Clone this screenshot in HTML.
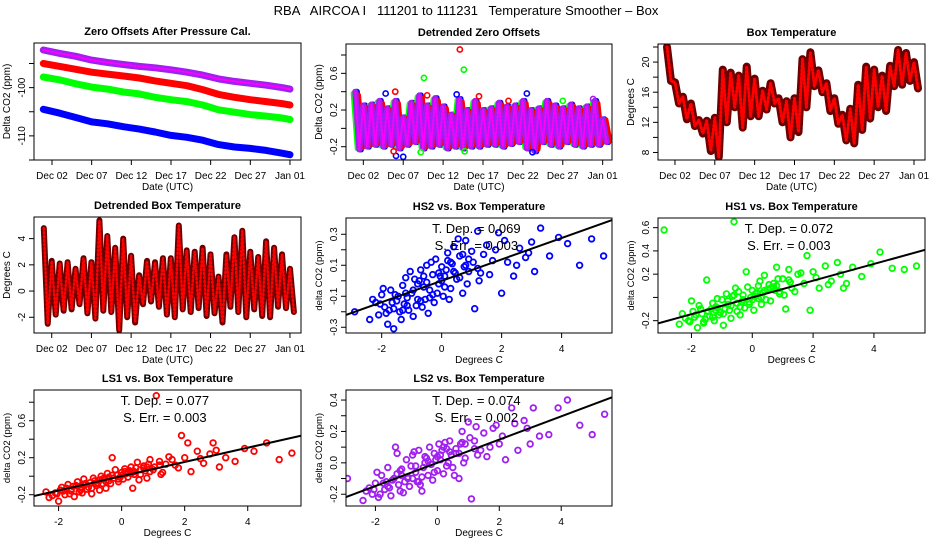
<!DOCTYPE html>
<html><head><meta charset="utf-8"><style>
html,body{margin:0;padding:0;background:#fff;}
svg{display:block;font-family:"Liberation Sans",Arial,sans-serif;}
</style></head><body>
<svg id="chart" width="936" height="540" viewBox="0 0 936 540" xmlns="http://www.w3.org/2000/svg">
<rect width="936" height="540" fill="#fff"/>
<text x="466" y="15" font-size="13" text-anchor="middle" xml:space="preserve">RBA   AIRCOA I   111201 to 111231   Temperature Smoother – Box</text>
</svg>
<script>
// ---------- data ----------
const dateTicks = [2,7,12,17,22,27,32];
const dateLabels = ["Dec 02","Dec 07","Dec 12","Dec 17","Dec 22","Dec 27","Jan 01"];

const zeroT = [0.9,3,5,7,9,11,13,15,17,19,21,23,25,27,29,31,32];
const zeroPurple = [-92.2,-92.9,-93.5,-94.3,-94.8,-95.2,-95.6,-95.9,-96.3,-96.8,-97.4,-98.2,-98.7,-99.1,-99.5,-100.0,-100.3];
const zeroRed = [-95.0,-95.6,-96.2,-96.8,-97.2,-97.6,-98.0,-98.6,-99.1,-99.6,-100.4,-101.4,-102.0,-102.5,-102.9,-103.3,-103.6];
const zeroGreen = [-97.8,-98.4,-99.2,-99.9,-100.3,-100.9,-101.3,-102.0,-102.5,-102.9,-103.6,-104.6,-105.1,-105.6,-105.9,-106.3,-106.6];
const zeroBlue = [-104.5,-105.3,-106.2,-107.1,-107.5,-108.1,-108.6,-109.2,-109.9,-110.3,-110.9,-111.8,-112.3,-112.6,-113.0,-113.6,-113.9];

const days = [1,2,3,4,5,6,7,8,9,10,11,12,13,14,15,16,17,18,19,20,21,22,23,24,25,26,27,28,29,30,31,32];
const detHi = [0.40,0.25,0.26,0.30,0.22,0.30,0.12,0.28,0.36,0.25,0.33,0.24,0.15,0.32,0.20,0.30,0.20,0.22,0.28,0.24,0.25,0.30,0.20,0.22,0.30,0.25,0.22,0.26,0.22,0.24,0.30,0.10];
const detLo = [-0.23,-0.20,-0.18,-0.20,-0.18,-0.22,-0.18,-0.15,-0.22,-0.20,-0.18,-0.22,-0.20,-0.22,-0.20,-0.20,-0.18,-0.18,-0.20,-0.17,-0.15,-0.22,-0.25,-0.15,-0.18,-0.20,-0.15,-0.18,-0.20,-0.18,-0.18,-0.15];
const outT = [14.1,9.6,14.6,6.0,4.8,6.1,7.0,10.0,22.5,20.2,27.0,5.8,9.2,23.2,14.7,16.5,13.7,30.8];
const outV = [0.86,0.55,0.64,0.40,0.38,-0.30,-0.31,0.36,0.38,0.30,0.30,-0.25,-0.26,-0.26,-0.25,0.35,0.37,0.32];
const outC = ["#ff0000","#00ff00","#00ff00","#ff0000","#0000ff","#0000ff","#0000ff","#ff0000","#0000ff","#ff0000","#00ff00","#ff0000","#00ff00","#0000ff","#00ff00","#ff0000","#0000ff","#a020f0"];

const tempHi = [22.0,17.3,15.4,14.5,12.3,12.2,12.6,19.0,18.6,18.2,19.4,17.8,16.2,17.2,15.2,14.8,15.2,20.4,21.3,18.9,17.2,15.2,13.0,13.8,17.0,19.4,19.0,18.2,19.5,21.6,21.2,20.0];
const tempLo = [17.5,14.5,12.4,11.5,10.5,8.2,7.4,12.0,14.0,11.3,12.8,12.8,13.7,14.5,12.0,10.0,10.7,14.0,16.8,16.0,13.5,11.8,9.6,9.2,11.0,12.5,14.0,13.5,16.8,17.0,17.5,16.5];

const dtHi = [4.8,2.3,2.1,2.2,1.7,2.5,2.2,5.4,4.2,3.3,4.0,2.7,1.2,2.3,2.2,2.5,2.5,5.0,3.1,3.0,3.3,2.8,1.1,2.8,4.1,4.6,3.0,2.6,3.8,3.3,2.8,1.7];
const dtLo = [-2.5,-1.8,-1.5,-1.4,-1.0,-1.7,-2.1,-1.5,-1.6,-3.0,-2.0,-2.4,-1.0,-0.8,-1.2,-1.8,-2.0,-1.4,-1.6,-1.3,-1.9,-1.7,-2.4,-1.2,-1.6,-2.0,-1.4,-1.9,-2.0,-1.2,-1.3,-1.6];

const boxT = [-2.9,-2.4,-2.3,-2.1,-2.0,-1.9,-1.8,-1.7,-1.6,-1.5,-1.4,-1.3,-1.25,-1.2,-1.1,-1.0,-0.95,-0.9,-0.8,-0.7,-0.65,-0.6,-0.5,-0.45,-0.4,-0.3,-0.25,-0.2,-0.1,0.0,0.05,0.1,0.2,0.3,0.35,0.4,0.5,0.6,0.7,0.8,0.9,1.0,1.1,1.2,1.3,1.5,1.7,1.9,2.0,2.2,2.4,2.6,2.8,3.1,3.3,3.6,3.9,4.2,4.6,5.0,5.4,
 -2.2,-1.95,-1.75,-1.55,-1.35,-1.15,-1.05,-0.85,-0.75,-0.55,-0.35,-0.15,0.15,0.25,0.45,0.55,0.75,0.85,1.05,1.25,1.4,1.6,1.8,2.1,2.5,2.9,3.0,-1.65,-0.05,
 -1.85,-1.45,-1.15,-0.95,-0.7,-0.5,-0.3,-0.1,0.1,0.3,0.6,0.9,-1.6,-1.2,-0.8,-0.4,0.0,0.4,0.8,1.2,-2.05,-1.3,-0.6,0.2,0.7];
const hs2Y = [-0.20,-0.25,-0.12,-0.22,-0.09,-0.17,-0.28,-0.06,-0.31,-0.13,-0.20,-0.03,-0.15,0.02,-0.19,-0.08,-0.23,0.01,-0.12,0.07,-0.17,-0.04,0.10,-0.21,-0.06,0.04,-0.14,0.14,-0.02,0.09,-0.10,0.03,0.18,-0.05,0.11,0.22,0.01,0.16,-0.08,0.26,0.06,0.19,-0.18,0.32,0.05,0.23,0.13,0.31,-0.08,0.12,0.03,0.21,0.15,0.06,0.34,0.16,0.28,0.24,0.10,0.27,0.16,
 -0.14,-0.05,-0.19,-0.09,-0.25,-0.11,0.06,-0.16,0.00,-0.12,0.12,-0.08,0.07,-0.12,0.05,0.27,0.09,-0.02,0.12,0.00,0.17,0.04,0.20,0.26,0.10,0.18,0.25,-0.14,0.03,
 -0.21,-0.10,-0.16,-0.06,-0.13,-0.01,-0.09,0.05,-0.04,0.12,0.02,0.14,-0.18,-0.08,-0.02,-0.11,0.00,0.06,0.10,0.08,-0.15,-0.19,0.03,0.13,0.17];
const hs1Y = [0.58,-0.23,-0.14,-0.20,-0.03,-0.17,-0.26,-0.10,-0.21,0.15,-0.16,-0.05,-0.20,-0.08,-0.15,-0.02,-0.24,-0.10,-0.06,-0.18,0.01,0.65,-0.12,0.05,-0.15,0.02,-0.09,0.22,-0.04,0.06,-0.11,0.01,0.10,-0.06,0.04,0.19,0.07,-0.03,0.12,0.26,0.03,0.16,-0.10,0.24,0.08,0.20,0.12,-0.11,0.22,0.08,0.27,0.14,0.30,0.12,0.26,0.18,0.29,0.39,0.25,0.24,0.27,
 -0.18,-0.12,-0.07,-0.19,-0.10,-0.01,-0.13,0.03,-0.11,0.08,-0.04,0.09,0.04,0.14,-0.02,0.11,0.06,0.16,0.02,0.13,0.05,0.21,0.36,0.17,0.11,0.20,0.08,-0.14,0.00,
 -0.15,-0.12,-0.09,-0.14,-0.07,-0.05,-0.02,-0.06,0.03,0.00,0.08,0.05,-0.22,-0.11,-0.03,-0.08,-0.02,0.06,0.10,0.15,-0.21,-0.17,0.02,-0.01,0.09];
const ls1Y = [-0.20,-0.17,-0.23,-0.18,-0.27,-0.12,-0.20,-0.09,-0.16,-0.22,-0.06,-0.12,-0.18,-0.03,-0.14,-0.07,-0.19,-0.02,-0.10,-0.15,0.00,-0.08,-0.13,0.03,-0.05,0.20,-0.02,0.07,-0.06,0.04,-0.03,0.08,-0.01,0.10,-0.13,0.05,0.15,0.02,0.11,-0.02,0.18,0.07,0.87,0.16,0.04,0.21,0.12,0.44,0.20,0.05,0.27,0.14,0.24,0.10,0.20,0.16,0.30,0.27,0.36,0.18,0.25,
 -0.21,-0.15,-0.13,-0.11,-0.17,-0.09,-0.12,-0.05,-0.07,-0.02,-0.08,0.01,0.03,0.06,0.09,-0.04,0.06,0.13,0.10,0.02,0.13,0.18,0.09,0.36,0.19,0.36,0.28,-0.19,-0.01,
 -0.16,-0.10,-0.08,-0.13,-0.04,-0.06,0.01,-0.03,0.05,0.03,0.07,0.05,-0.14,-0.09,-0.08,-0.01,0.01,0.02,0.10,0.12,-0.19,-0.15,-0.03,0.04,0.09];
const ls2Y = [-0.10,-0.24,-0.18,-0.20,-0.13,-0.22,-0.08,-0.17,-0.03,-0.21,-0.10,0.06,-0.14,-0.05,-0.19,0.02,-0.09,-0.15,0.05,-0.06,-0.12,0.08,-0.18,-0.03,0.04,-0.08,0.10,-0.01,0.06,-0.05,0.12,0.02,-0.07,0.09,0.00,0.14,-0.03,0.06,-0.10,0.20,0.03,0.26,-0.23,0.14,0.05,0.19,0.10,0.24,0.12,0.02,0.35,0.08,0.27,0.35,0.17,0.18,0.35,0.40,0.24,0.18,0.31,
 -0.16,-0.06,-0.13,-0.16,0.10,-0.08,-0.12,-0.02,0.07,-0.14,0.03,-0.11,0.08,0.13,0.05,-0.08,0.12,0.00,0.16,0.23,0.08,0.04,0.22,0.17,0.25,0.22,0.12,-0.12,0.02,
 -0.20,-0.11,-0.04,-0.10,-0.02,-0.09,0.01,-0.06,0.05,-0.02,0.09,0.12,-0.15,-0.18,-0.10,0.00,0.04,0.07,0.13,0.09,-0.17,-0.07,-0.12,0.10,0.06];
const slopes = {hs2:0.069, hs1:0.072, ls1:0.077, ls2:0.074};
const slopeLabels = ["T. Dep. =  0.069","T. Dep. =  0.072","T. Dep. =  0.077","T. Dep. =  0.074"];
const errLabels = ["S. Err. =  0.003","S. Err. =  0.003","S. Err. =  0.003","S. Err. =  0.002"];

// ---------- drawing ----------
const NS = "http://www.w3.org/2000/svg";
const svg = document.getElementById('chart');
function mk(tag, attrs, parent){
  const e = document.createElementNS(NS, tag);
  for (const k in attrs) e.setAttribute(k, attrs[k]);
  (parent||svg).appendChild(e);
  return e;
}
function panel(name, box, xd, yd){
  const g = mk('g', {});
  
  
  const cid = 'clip-' + name;
  const cp = mk('clipPath', {id: cid}, g);
  mk('rect', {x: box[0], y: box[1], width: box[2]-box[0], height: box[3]-box[1]}, cp);
  const plot = mk('g', {'clip-path': 'url(#' + cid + ')'}, g);
  
  
  const sx = v => box[0] + (v - xd[0]) / (xd[1] - xd[0]) * (box[2] - box[0]);
  const sy = v => box[3] - (v - yd[0]) / (yd[1] - yd[0]) * (box[3] - box[1]);
  return {g, plot, box, sx, sy};
}
function frame(P, title, xTicks, xLabels, yTicks, yLabelSet, xTitle, yTitle, ySize){
  const b = P.box, g = P.g;
  const fr = mk('rect', {x: b[0], y: b[1], width: b[2]-b[0], height: b[3]-b[1], fill: 'none', stroke: '#000', 'stroke-width': 1}, g);
  
  
  const t = mk('text', {x: (b[0]+b[2])/2, y: b[1]-8, 'font-size': 11, 'font-weight': 'bold', 'text-anchor': 'middle'}, g);
  t.textContent = title;
  
  
  xTicks.forEach((v, i) => {
    const x = P.sx(v);
    mk('line', {x1: x, x2: x, y1: b[3], y2: b[3]+5, stroke: '#000'}, g);
    const tl = mk('text', {x: x, y: b[3]+19, 'font-size': 10, 'text-anchor': 'middle'}, g);
    tl.textContent = xLabels[i];
    
    
  });
  yTicks.forEach(v => {
    const y = P.sy(v);
    mk('line', {x1: b[0]-5, x2: b[0], y1: y, y2: y, stroke: '#000'}, g);
    const lab = yLabelSet[String(v)];
    if (lab !== undefined) {
      const tl = mk('text', {x: b[0]-9, y: y, 'font-size': 10, 'text-anchor': 'middle', transform: 'rotate(-90 ' + (b[0]-9) + ' ' + y + ')'}, g);
      tl.textContent = lab;
      
      
    }
  });
  const xt = mk('text', {x: (b[0]+b[2])/2, y: b[3]+30, 'font-size': 10, 'text-anchor': 'middle'}, g);
  xt.textContent = xTitle;
  
  
  const yx = b[0]-24, yy = (b[1]+b[3])/2;
  const yt = mk('text', {x: yx, y: yy, 'font-size': ySize||10, 'text-anchor': 'middle', transform: 'rotate(-90 ' + yx + ' ' + yy + ')'}, g);
  yt.textContent = yTitle;
  
  
}
function band(P, ts, vs, color, w, name){
  const pts = ts.map((t, i) => P.sx(t).toFixed(1) + ',' + P.sy(vs[i]).toFixed(1)).join(' ');
  const pl = mk('polyline', {points: pts, fill: 'none', stroke: color, 'stroke-width': w, 'stroke-linejoin': 'round', 'stroke-linecap': 'round'}, P.plot);
  
  
  return pl;
}
function zig(lo, hi, dt){
  const ts = [], vs = [];
  days.forEach((d, i) => { ts.push(d + dt); vs.push(hi[i]); ts.push(d + 0.5 + dt); vs.push(lo[i]); });
  return [ts, vs];
}
function lbls(arr){ const o = {}; arr.forEach(v => o[String(v)] = String(v)); return o; }

// Panel 1: zero offsets
const p1 = panel('zero-offsets-panel', [34,43,301,160], [-0.27,33.39], [-115.0,-90.75]);
band(p1, zeroT, zeroBlue, '#0000ff', 7, 'series-blue');
band(p1, zeroT, zeroGreen, '#00ff00', 7, 'series-green');
band(p1, zeroT, zeroRed, '#ff0000', 7, 'series-red');
band(p1, zeroT, zeroPurple, '#a020f0', 7, 'series-purple');
band(p1, zeroT, zeroPurple, '#ff00ff', 2, 'series-purple-highlight').setAttribute('stroke-dasharray', '2 2');
frame(p1, 'Zero Offsets After Pressure Cal.', dateTicks, dateLabels, [-115,-110,-105,-100,-95], {"-110":"-110","-100":"-100"}, 'Date (UTC)', 'Delta CO2 (ppm)');

// Panel 2: detrended zero offsets
const p2 = panel('detrended-zero-offsets-panel', [346,44,612,160], [-0.17,33.17], [-0.345,0.92]);
[['#0000ff',0.2,1.0],['#00ff00',-0.2,0.95],['#ff0000',0.35,0.9]].forEach(s => {
  const z = zig(detLo.map(v=>v*s[2]), detHi.map(v=>v*s[2]), s[1]);
  band(p2, z[0], z[1], s[0], 6, 'detrended-series');
});
const zp = zig(detLo, detHi, 0);
band(p2, zp[0], zp[1], '#a020f0', 6, 'detrended-series-purple');
band(p2, zp[0], zp[1], '#ff00ff', 2, 'detrended-series-purple-hl').setAttribute('stroke-dasharray', '2 2');
outT.forEach((t, i) => {
  const c = mk('circle', {cx: p2.sx(t), cy: p2.sy(outV[i]), r: 2.6, fill: 'none', stroke: outC[i], 'stroke-width': 1.6}, p2.plot);
  
  
});
frame(p2, 'Detrended Zero Offsets', dateTicks, dateLabels, [-0.2,0,0.2,0.4,0.6,0.8], {"-0.2":"-0.2","0.2":"0.2","0.6":"0.6"}, 'Date (UTC)', 'Delta CO2 (ppm)');

// Panel 3: box temperature
const p3 = panel('box-temperature-panel', [658,44,925,160], [-0.13,33.38], [7.0,22.4]);
const zt = zig(tempLo, tempHi, 0);
band(p3, zt[0], zt[1], '#6a0000', 8, 'temperature-trace');
band(p3, zt[0], zt[1], '#ff0000', 3, 'temperature-trace-red').setAttribute('stroke-dasharray', '1.5 2.5');
frame(p3, 'Box Temperature', dateTicks, dateLabels, [8,10,12,14,16,18,20,22], {"8":"8","12":"12","16":"16","20":"20"}, 'Date (UTC)', 'Degrees C');

// Panel 4: detrended box temperature
const p4 = panel('detrended-box-temperature-panel', [34,217,301,333], [-0.23,33.39], [-3.2,5.65]);
const zd = zig(dtLo, dtHi, 0);
band(p4, zd[0], zd[1], '#6a0000', 6, 'detrended-temp-trace');
band(p4, zd[0], zd[1], '#ff0000', 2.5, 'detrended-temp-trace-red').setAttribute('stroke-dasharray', '1.5 2.5');
frame(p4, 'Detrended Box Temperature', dateTicks, dateLabels, [-2,0,2,4], lbls([-2,0,2,4]), 'Date (UTC)', 'Degrees C');

// Scatter panels
function scatter(name, box, xd, yd, ys, color, slope, idx, title, yTicks, yLab){
  const P = panel(name, box, xd, yd);
  boxT.forEach((x, i) => {
    const c = mk('circle', {cx: P.sx(x).toFixed(1), cy: P.sy(ys[i]).toFixed(1), r: 2.8, fill: 'none', stroke: color, 'stroke-width': 1.8}, P.plot);
    
    
  });
  const ln = mk('line', {x1: P.sx(xd[0]), y1: P.sy(slope*xd[0]), x2: P.sx(xd[1]), y2: P.sy(slope*xd[1]), stroke: '#000', 'stroke-width': 2}, P.plot);
  
  
  const cx = box[0] + (box[2]-box[0]) * 0.49;
  const t1 = mk('text', {x: cx, y: box[1]+15, 'font-size': 13, 'text-anchor': 'middle', 'xml:space': 'preserve'}, P.g);
  t1.textContent = slopeLabels[idx];
  
  
  const t2 = mk('text', {x: cx, y: box[1]+32, 'font-size': 13, 'text-anchor': 'middle', 'xml:space': 'preserve'}, P.g);
  t2.textContent = errLabels[idx];
  
  
  frame(P, title, [-2,0,2,4], ["-2","0","2","4"], yTicks, yLab, 'Degrees C', 'delta CO2 (ppm)', 9.5);
}
scatter('hs2-scatter-panel', [346,218,612,333], [-3.19,5.68], [-0.337,0.405], hs2Y, '#0000ff', slopes.hs2, 0, 'HS2 vs. Box Temperature',
  [-0.3,-0.2,-0.1,0,0.1,0.2,0.3], {"-0.3":"-0.3","-0.1":"-0.1","0.1":"0.1","0.3":"0.3"});
scatter('hs1-scatter-panel', [658,218,925,333], [-3.10,5.68], [-0.306,0.683], hs1Y, '#00ff00', slopes.hs1, 1, 'HS1 vs. Box Temperature',
  [-0.2,0,0.2,0.4,0.6], {"-0.2":"-0.2","0.2":"0.2","0.4":"0.4","0.6":"0.6"});
scatter('ls1-scatter-panel', [34,390,301,506], [-2.78,5.69], [-0.322,0.932], ls1Y, '#ff0000', slopes.ls1, 2, 'LS1 vs. Box Temperature',
  [-0.2,0,0.2,0.4,0.6,0.8], {"-0.2":"-0.2","0.2":"0.2","0.6":"0.6"});
scatter('ls2-scatter-panel', [346,390,612,506], [-2.95,5.64], [-0.275,0.464], ls2Y, '#a020f0', slopes.ls2, 3, 'LS2 vs. Box Temperature',
  [-0.2,-0.1,0,0.1,0.2,0.3,0.4], {"-0.2":"-0.2","0":"0.0","0.2":"0.2","0.4":"0.4"});
</script>
</body></html>
